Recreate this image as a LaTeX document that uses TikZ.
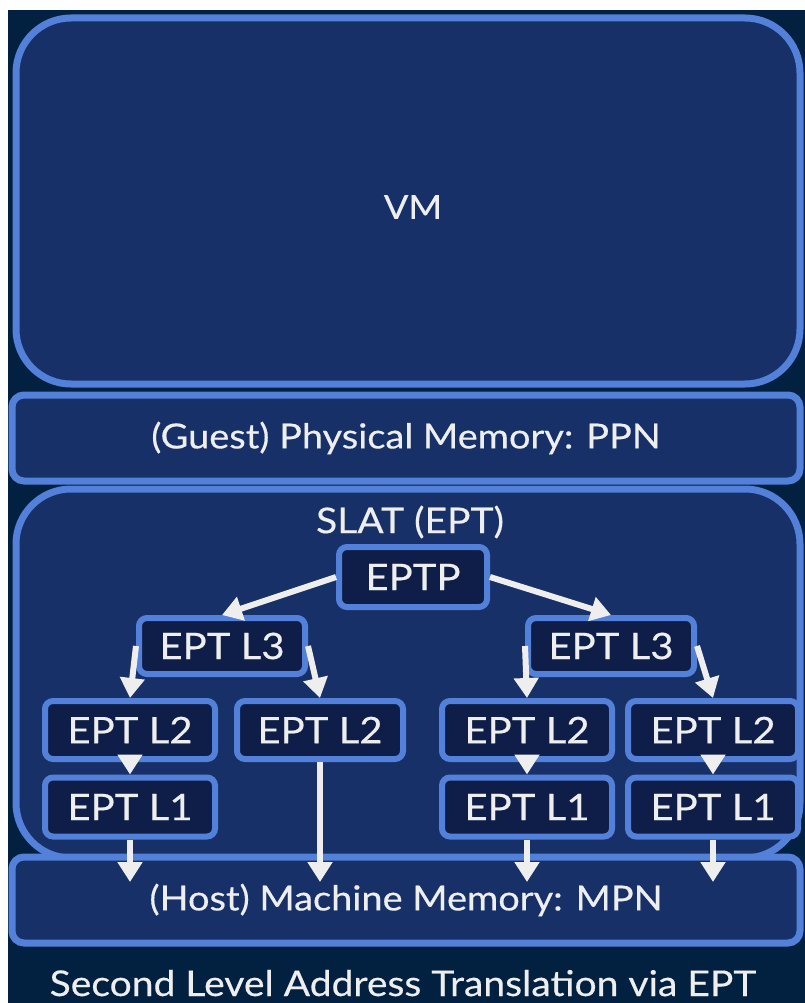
\documentclass[tikz,border=0pt]{standalone}
\usepackage{fontspec}
\setmainfont{Lato}[FakeStretch=1.1, FakeBold=0.4]
\usetikzlibrary{arrows.meta}

\definecolor{pagebg}{HTML}{02203F}
\definecolor{boxfill}{HTML}{173168}
\definecolor{edgeblue}{HTML}{5380D8}
\definecolor{cellfill}{HTML}{0E1E48}
\definecolor{inkwhite}{HTML}{EEEEEE}

\tikzset{
  layer/.style={draw=edgeblue, fill=boxfill, line width=7pt, inner sep=0pt,
    text=inkwhite, font=\fontsize{34.5}{40}\selectfont},
  cell/.style={draw=edgeblue, fill=cellfill, line width=6pt, rounded corners=8pt,
    inner sep=0pt, text=inkwhite, font=\fontsize{36.5}{40}\selectfont},
  walk/.style={draw=inkwhite, line width=6pt, -{Triangle[width=24pt,length=20pt]}},
  label/.style={text=inkwhite, inner sep=0pt, font=\fontsize{35.5}{40}\selectfont}
}

\begin{document}
\begin{tikzpicture}[x=1pt,y=-1pt]
  % page and backdrop
  \fill[white] (0,0) rectangle (805,1003);
  \fill[pagebg] (8,10) rectangle (805,1003);
  \useasboundingbox (0,0) rectangle (805,1003);

  % stacked layers
  \node[layer, rounded corners=55pt, minimum width=784pt, minimum height=366pt]
    (vm) at (408,201) {};
  \node[label, font=\fontsize{33}{40}\selectfont] (vmtitle) at (413,207) {VM};
  \node[layer, rounded corners=12pt, minimum width=788pt, minimum height=86pt]
    (ppn) at (406,438) {(Guest) Physical Memory: PPN};
  \node[layer, rounded corners=55pt, minimum width=784pt, minimum height=369pt]
    (slat) at (408,673.5) {};
  \node[label] (slattitle) at (410,522) {SLAT (EPT)};
  \node[layer, rounded corners=12pt, minimum width=788pt, minimum height=86pt]
    (mpn) at (406,900) {(Host) Machine Memory: MPN};

  % page-table walk
  \node[cell, minimum width=148pt, minimum height=60pt] (eptp) at (413,577) {EPTP};
  \node[cell, minimum width=166pt, minimum height=56pt] (l3a) at (222,646) {EPT L3};
  \node[cell, minimum width=166pt, minimum height=56pt] (l3b) at (611,646) {EPT L3};
  \node[cell, minimum width=170pt, minimum height=58pt] (l2a) at (130,730) {EPT L2};
  \node[cell, minimum width=166pt, minimum height=58pt] (l2b) at (320,730) {EPT L2};
  \node[cell, minimum width=170pt, minimum height=58pt] (l2c) at (527,730) {EPT L2};
  \node[cell, minimum width=170pt, minimum height=58pt] (l2d) at (713,730) {EPT L2};
  \node[cell, minimum width=170pt, minimum height=59pt] (l1a) at (130,807) {EPT L1};
  \node[cell, minimum width=170pt, minimum height=59pt] (l1c) at (527,807) {EPT L1};
  \node[cell, minimum width=170pt, minimum height=59pt] (l1d) at (713,807) {EPT L1};

  % depth where the walk lands in machine memory
  \coordinate (land) at (400,882);

  \draw[walk] (eptp.west) -- (l3a.north);
  \draw[walk] (eptp.east) -- (l3b.north);
  \draw[walk] (l3a.west) -- (l2a.north);
  \draw[walk] (l3a.east) -- (l2b.north);
  \draw[walk] (l3b.west) -- (l2c.north);
  \draw[walk] (l3b.east) -- (l2d.north);
  \draw[walk] (l2a.south) -- (l1a.north);
  \draw[walk] (l2c.south) -- (l1c.north);
  \draw[walk] (l2d.south) -- (l1d.north);
  \draw[walk] (l1a.south) -- (l1a.south |- land);
  \draw[walk] (l2b.south) -- (l2b.south |- land);
  \draw[walk] (l1c.south) -- (l1c.south |- land);
  \draw[walk] (l1d.south) -- (l1d.south |- land);

  % caption, sitting on its baseline near the lower edge
  \node[label, anchor=base] (caption) at (403,996)
    {Second Level Address Translation via EPT};
\end{tikzpicture}
\end{document}
